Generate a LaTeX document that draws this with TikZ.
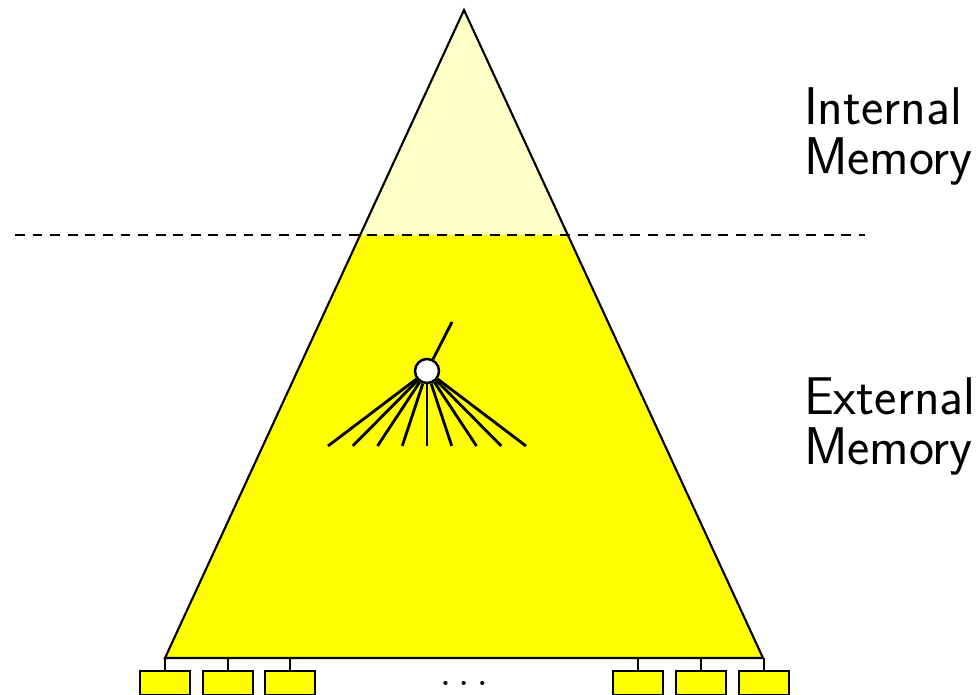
\documentclass[tikz,border=0pt]{standalone}
\usepackage{fontspec}
\usetikzlibrary{calc}
\newfontfamily\memfont{lmsans17-regular}[Extension=.otf]
\definecolor{cyellow}{HTML}{FFFF00}
\definecolor{cpale}{HTML}{FFFFC8}
\tikzset{
  every picture/.style={font=\sffamily, line width=0.6pt},
  leaf/.style={draw, fill=cyellow, line width=0.7pt, minimum width=0.5cm, minimum height=0.24cm, inner sep=0pt, anchor=north},
  inode/.style={circle, draw, fill=white, line width=0.7pt, minimum size=0.24cm, inner sep=0pt},
  edge/.style={line width=0.8pt},
  memlabel/.style={font=\memfont\fontsize{15.1}{14.2}\selectfont, align=left, inner sep=0pt, anchor=north west},
}
\begin{document}
\begin{tikzpicture}[x=0.01cm, y=-0.01cm]
  \useasboundingbox (0,0) rectangle (979,695);
  % the tree
  \coordinate (top) at (464,10);
  \coordinate (bl) at (165,658);
  \coordinate (br) at (763,658);
  \coordinate (cl) at ($(top)!0.3472!(bl)$);
  \coordinate (cr) at ($(top)!0.3472!(br)$);
  \fill[cyellow] (bl) -- (br) -- (cr) -- (cl) -- cycle;
  \fill[cpale] (top) -- (cl) -- (cr) -- cycle;
  \draw (top) -- (bl) -- (br) -- cycle;
  % memory boundary
  \coordinate (dl) at (15,235);
  \coordinate (dr) at (865,235);
  \draw[dash pattern=on 2.8pt off 2.2pt] (dl) -- (dr);
  \node[memlabel] (int) at (803,87) {Internal\\Memory};
  \node[memlabel] (ext) at (803,377) {External\\Memory};
  % one node and its children
  \node[inode] (n) at (427,371) {};
  \coordinate (up) at (452,322);
  \draw[edge] (n) -- (up);
  \foreach \i in {0,...,8}
    \draw[edge] (n) -- ({328+24.75*\i},446);
  % leaves
  \foreach \x/\k in {165/1, 228/2, 290/3, 638/4, 701/5, 764/6} {
    \node[leaf] (leaf\k) at (\x,670) {};
    \draw (leaf\k.north) -- (\x,658);
  }
  \node (dots) at (464,683) {\large$\ldots$};
\end{tikzpicture}
\end{document}
